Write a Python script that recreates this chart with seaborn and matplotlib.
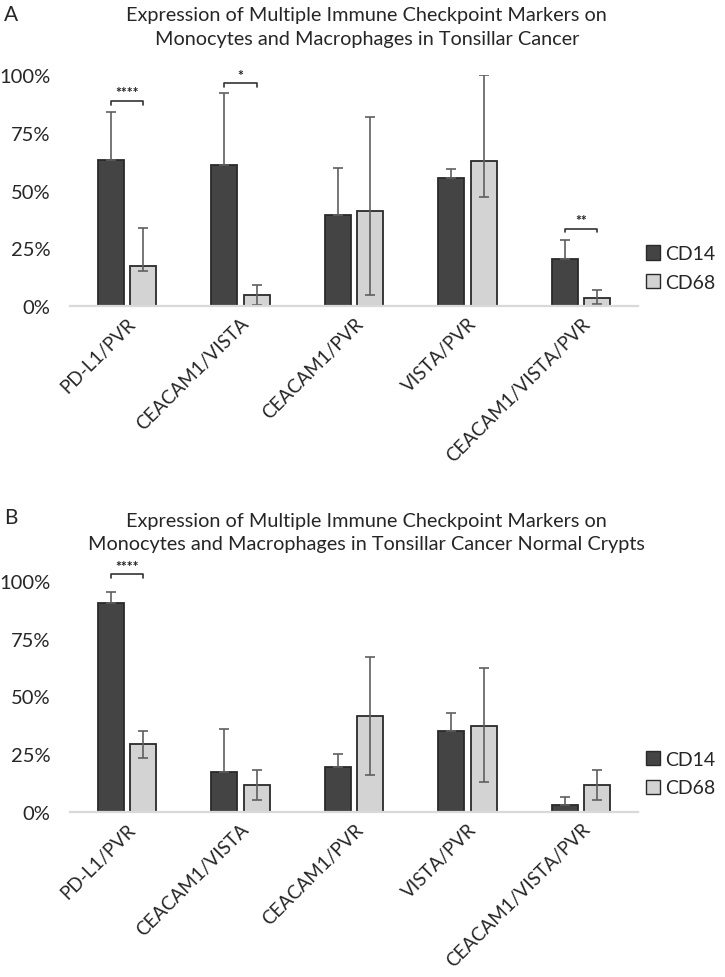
import numpy as np
import pandas as pd
import matplotlib
matplotlib.use("Agg")
import matplotlib.pyplot as plt
import seaborn as sns
from matplotlib.patches import Patch

# Data (percent)
markers = ['PD-L1/PVR', 'CEACAM1/VISTA', 'CEACAM1/PVR', 'VISTA/PVR', 'CEACAM1/VISTA/PVR']

# Panel A - tonsillar cancer
a_cd14 = [63.3, 61.0, 39.5, 55.7, 20.3]
a_cd14_hi = [84.3, 92.5, 60.0, 59.2, 28.7]
a_cd68 = [17.2, 4.8, 41.3, 62.9, 3.6]
a_cd68_lo = [15.3, 0.6, 5.0, 47.3, 1.1]
a_cd68_hi = [34.0, 9.0, 82.0, 100.0, 6.9]
a_sig = {0: '****', 1: '*', 4: '**'}
a_sig_y = {0: 89.0, 1: 96.5, 4: 33.6}

# Panel B - normal crypts
b_cd14 = [90.6, 17.0, 19.2, 35.1, 2.8]
b_cd14_hi = [95.3, 35.7, 24.9, 42.8, 6.4]
b_cd68 = [29.2, 11.7, 41.3, 37.3, 11.7]
b_cd68_lo = [23.4, 5.1, 16.0, 12.8, 5.1]
b_cd68_hi = [35.1, 18.1, 66.9, 62.2, 18.1]
b_sig = {0: '****'}
b_sig_y = {0: 102.8}

title_a = 'Expression of Multiple Immune Checkpoint Markers on\nMonocytes and Macrophages in Tonsillar Cancer'
title_b = 'Expression of Multiple Immune Checkpoint Markers on\nMonocytes and Macrophages in Tonsillar Cancer Normal Crypts'

sns.set_style('white')
plt.rcParams['font.family'] = ['Lato', 'DejaVu Sans']

dark = '#444444'
light = '#d3d3d3'
err_col = '#5f5f5f'


def panel(ax, cd14, cd14_hi, cd68, cd68_lo, cd68_hi, sig, sig_y):
    df = pd.DataFrame({
        'marker': markers * 2,
        'cell': ['CD14'] * 5 + ['CD68'] * 5,
        'value': np.array(cd14 + cd68) / 100,
    })
    sns.barplot(data=df, x='marker', y='value', hue='cell', order=markers,
                palette={'CD14': dark, 'CD68': light}, errorbar=None,
                width=0.57, gap=0.2, edgecolor='#2a2a2a', linewidth=1.3,
                legend=False, ax=ax)
    c14, c68 = ax.containers[0], ax.containers[1]
    x14 = np.array([p.get_x() + p.get_width() / 2 for p in c14])
    x68 = np.array([p.get_x() + p.get_width() / 2 for p in c68])
    v14 = np.array(cd14) / 100
    v68 = np.array(cd68) / 100
    up14 = np.array(cd14_hi) / 100 - v14
    ax.errorbar(x14, v14, yerr=[np.zeros(5), up14], fmt='none',
                ecolor=err_col, elinewidth=1.2, capsize=3.5, capthick=1.2)
    lo68 = v68 - np.array(cd68_lo) / 100
    up68 = np.array(cd68_hi) / 100 - v68
    ax.errorbar(x68, v68, yerr=[lo68, up68], fmt='none',
                ecolor=err_col, elinewidth=1.2, capsize=3.5, capthick=1.2)
    for i, s in sig.items():
        y = sig_y[i] / 100
        ax.plot([x14[i], x14[i], x68[i], x68[i]], [y - 0.017, y, y, y - 0.017],
                color='#333333', lw=1.2, clip_on=False)
        ax.text((x14[i] + x68[i]) / 2, y + 0.012, s, ha='center', va='bottom',
                fontsize=10, fontweight='bold', color='#222222')

    ax.set_xlim(-0.5, 4.5)
    ax.set_ylim(0, 1)
    ax.set_yticks([0, 0.25, 0.5, 0.75, 1.0])
    ax.set_yticklabels(['0%', '25%', '50%', '75%', '100%'])
    ax.set_xlabel('')
    ax.set_ylabel('')
    ax.tick_params(axis='y', length=0, pad=14, labelsize=14.5)
    ax.tick_params(axis='x', length=0, pad=6, labelsize=13.5)
    for lab in ax.get_xticklabels():
        lab.set_rotation(45)
        lab.set_ha('right')
        lab.set_rotation_mode('anchor')
    for side in ['left', 'right', 'top']:
        ax.spines[side].set_visible(False)
    ax.spines['bottom'].set_color('#d9d9d9')
    ax.spines['bottom'].set_linewidth(1.6)
    handles = [Patch(facecolor=dark, edgecolor='#2a2a2a', label='CD14'),
               Patch(facecolor=light, edgecolor='#2a2a2a', label='CD68')]
    ax.legend(handles=handles, loc='center left', bbox_to_anchor=(1.0, 0.165),
              frameon=False, fontsize=14, handlelength=0.75, handleheight=0.75,
              handletextpad=0.25, labelspacing=0.6, borderaxespad=0.1,
              borderpad=0.3)


fig = plt.figure(figsize=(7.25, 9.78), dpi=100)
ax_a = fig.add_axes([0.0966, 0.686, 0.7834, 0.236])
ax_b = fig.add_axes([0.0966, 0.169, 0.7834, 0.236])

panel(ax_a, a_cd14, a_cd14_hi, a_cd68, a_cd68_lo, a_cd68_hi, a_sig, a_sig_y)
panel(ax_b, b_cd14, b_cd14_hi, b_cd68, b_cd68_lo, b_cd68_hi, b_sig, b_sig_y)

fig.text(0.506, 0.972, title_a, ha='center', va='center', fontsize=14.3, linespacing=1.45)
fig.text(0.506, 0.455, title_b, ha='center', va='center', fontsize=14.3, linespacing=1.45)
fig.text(0.005, 0.985, 'A', ha='left', va='center', fontsize=15)
fig.text(0.005, 0.47, 'B', ha='left', va='center', fontsize=15)

fig.savefig('out.png', dpi=100)
